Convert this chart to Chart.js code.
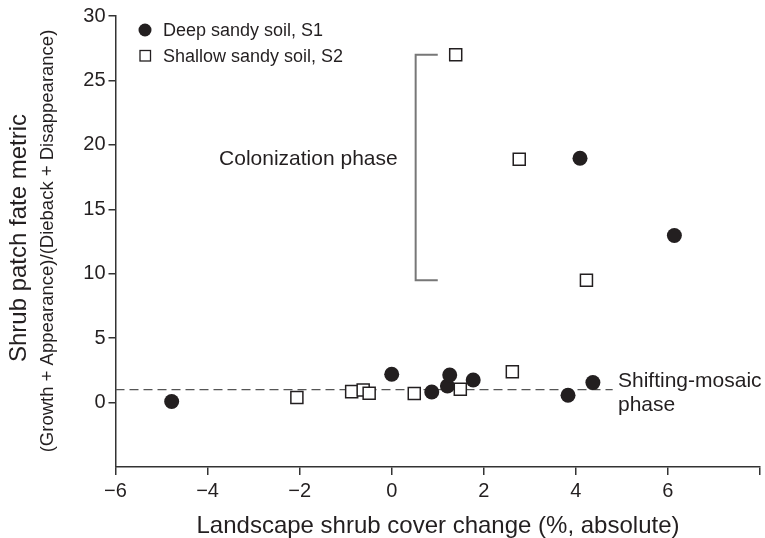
<!DOCTYPE html>
<html>
<head>
<meta charset="utf-8">
<script src="https://cdn.jsdelivr.net/npm/chart.js@4/dist/chart.umd.min.js"></script>
<style>
  html, body { margin: 0; padding: 0; background: #fff; }
  #wrap { width: 765px; height: 538px; position: relative; }
</style>
</head>
<body>
<div id="wrap"><canvas id="chart"></canvas></div>
<script>
// Values
const deepX = [-4.78, 0.0, 0.87, 1.21, 1.26, 1.77, 3.83, 4.37, 4.09, 6.14];
const deepY = [0.08, 2.2, 0.82, 1.29, 2.14, 1.75, 0.57, 1.55, 18.96, 12.97];
const shallowX = [-2.06, -0.87, -0.62, -0.49, 0.49, 1.49, 2.62, 1.39, 2.77, 4.23];
const shallowY = [0.39, 0.85, 0.98, 0.72, 0.70, 1.03, 2.40, 27.0, 18.89, 9.49];

// dashed shifting-mosaic reference line and colonization bracket
const refLineX = [-6, 4.8];
const refLineY = [1, 1];
const bracketX = [1.0, 0.52, 0.52, 1.0];
const bracketY = [27, 27, 9.5, 9.5];

const seriesNames = ["Deep sandy soil, S1", "Shallow sandy soil, S2"];

const ink = "#231f20";
const font = "'Liberation Sans', Arial, sans-serif";

const toPts = (xs, ys) => xs.map((x, i) => ({ x: x, y: ys[i] }));

// text annotations + custom legend + two-line y title
const decorations = {
    id: "decorations",
    afterDraw(chart) {
        const ctx = chart.ctx;
        const xs = chart.scales.x;
        const ys = chart.scales.y;
        ctx.save();
        ctx.fillStyle = ink;

        // legend
        ctx.beginPath();
        ctx.arc(145, 30, 6.5, 0, Math.PI * 2);
        ctx.fill();
        ctx.strokeStyle = ink;
        ctx.lineWidth = 1.3;
        ctx.strokeRect(140, 50.5, 10.5, 10.5);
        ctx.font = "18px " + font;
        ctx.textAlign = "left";
        ctx.textBaseline = "middle";
        ctx.fillText(seriesNames[0], 163, 31);
        ctx.fillText(seriesNames[1], 163, 57);

        // annotations
        ctx.font = "21px " + font;
        ctx.textAlign = "right";
        ctx.fillText("Colonization phase", xs.getPixelForValue(0.13), ys.getPixelForValue(18.9));
        ctx.textAlign = "left";
        ctx.fillText("Shifting-mosaic", 618, 381);
        ctx.fillText("phase", 618, 405);

        // x title
        ctx.font = "24px " + font;
        ctx.textAlign = "center";
        ctx.fillText("Landscape shrub cover change (%, absolute)", 438, 526);

        // y titles
        ctx.save();
        ctx.translate(19, 238);
        ctx.rotate(-Math.PI / 2);
        ctx.font = "24px " + font;
        ctx.fillText("Shrub patch fate metric", 0, 0);
        ctx.restore();
        ctx.translate(48, 241);
        ctx.rotate(-Math.PI / 2);
        ctx.font = "18.5px " + font;
        ctx.fillText("(Growth + Appearance)/(Dieback + Disappearance)", 0, 0);
        ctx.restore();
    }
};

new Chart(document.getElementById("chart"), {
    type: "scatter",
    data: {
        datasets: [
            {
                label: seriesNames[0],
                data: toPts(deepX, deepY),
                pointStyle: "circle",
                pointRadius: 7.5,
                backgroundColor: ink,
                borderColor: ink,
                borderWidth: 0,
                order: 0
            },
            {
                label: seriesNames[1],
                data: toPts(shallowX, shallowY),
                pointStyle: "rect",
                pointRadius: 8.5,
                backgroundColor: "#ffffff",
                borderColor: ink,
                borderWidth: 1.5,
                order: 0
            },
            {
                type: "line",
                data: toPts(refLineX, refLineY),
                borderColor: "#555",
                borderWidth: 1.3,
                borderDash: [9, 5],
                pointRadius: 0,
                order: 2
            },
            {
                type: "line",
                data: toPts(bracketX, bracketY),
                borderColor: "#777",
                borderWidth: 2,
                pointRadius: 0,
                tension: 0,
                order: 2
            }
        ]
    },
    options: {
        responsive: true,
        maintainAspectRatio: false,
        animation: false,
        layout: { autoPadding: false, padding: { top: 16, right: 5, left: 0, bottom: 0 } },
        plugins: {
            legend: { display: false },
            tooltip: { enabled: false }
        },
        scales: {
            x: {
                type: "linear",
                min: -6,
                max: 8,
                afterFit: (s) => { s.height = 71; s.paddingRight = 0; s.paddingLeft = 0; },
                border: { display: true, color: "#333", width: 1.5 },
                grid: { drawOnChartArea: false, drawTicks: true, tickLength: 8, color: "#333", lineWidth: 1.5 },
                ticks: {
                    stepSize: 2,
                    padding: 4,
                    color: ink,
                    font: { family: font, size: 20 },
                    callback: (v) => v === 8 ? "" : String(v).replace("-", "\u2212")
                }
            },
            y: {
                min: -5,
                max: 30,
                afterFit: (s) => { s.width = 115.5; s.paddingTop = 0; s.paddingBottom = 0; },
                border: { display: true, color: "#333", width: 1.5 },
                grid: {
                    drawOnChartArea: false,
                    drawTicks: true,
                    tickLength: 7,
                    lineWidth: 1.5,
                    color: (c) => c.tick && c.tick.value === -5 ? "rgba(0,0,0,0)" : "#333"
                },
                ticks: {
                    stepSize: 5,
                    padding: 3,
                    color: ink,
                    font: { family: font, size: 20 },
                    callback: (v) => v === -5 ? "" : String(v)
                }
            }
        }
    },
    plugins: [decorations]
});
</script>
</body>
</html>
